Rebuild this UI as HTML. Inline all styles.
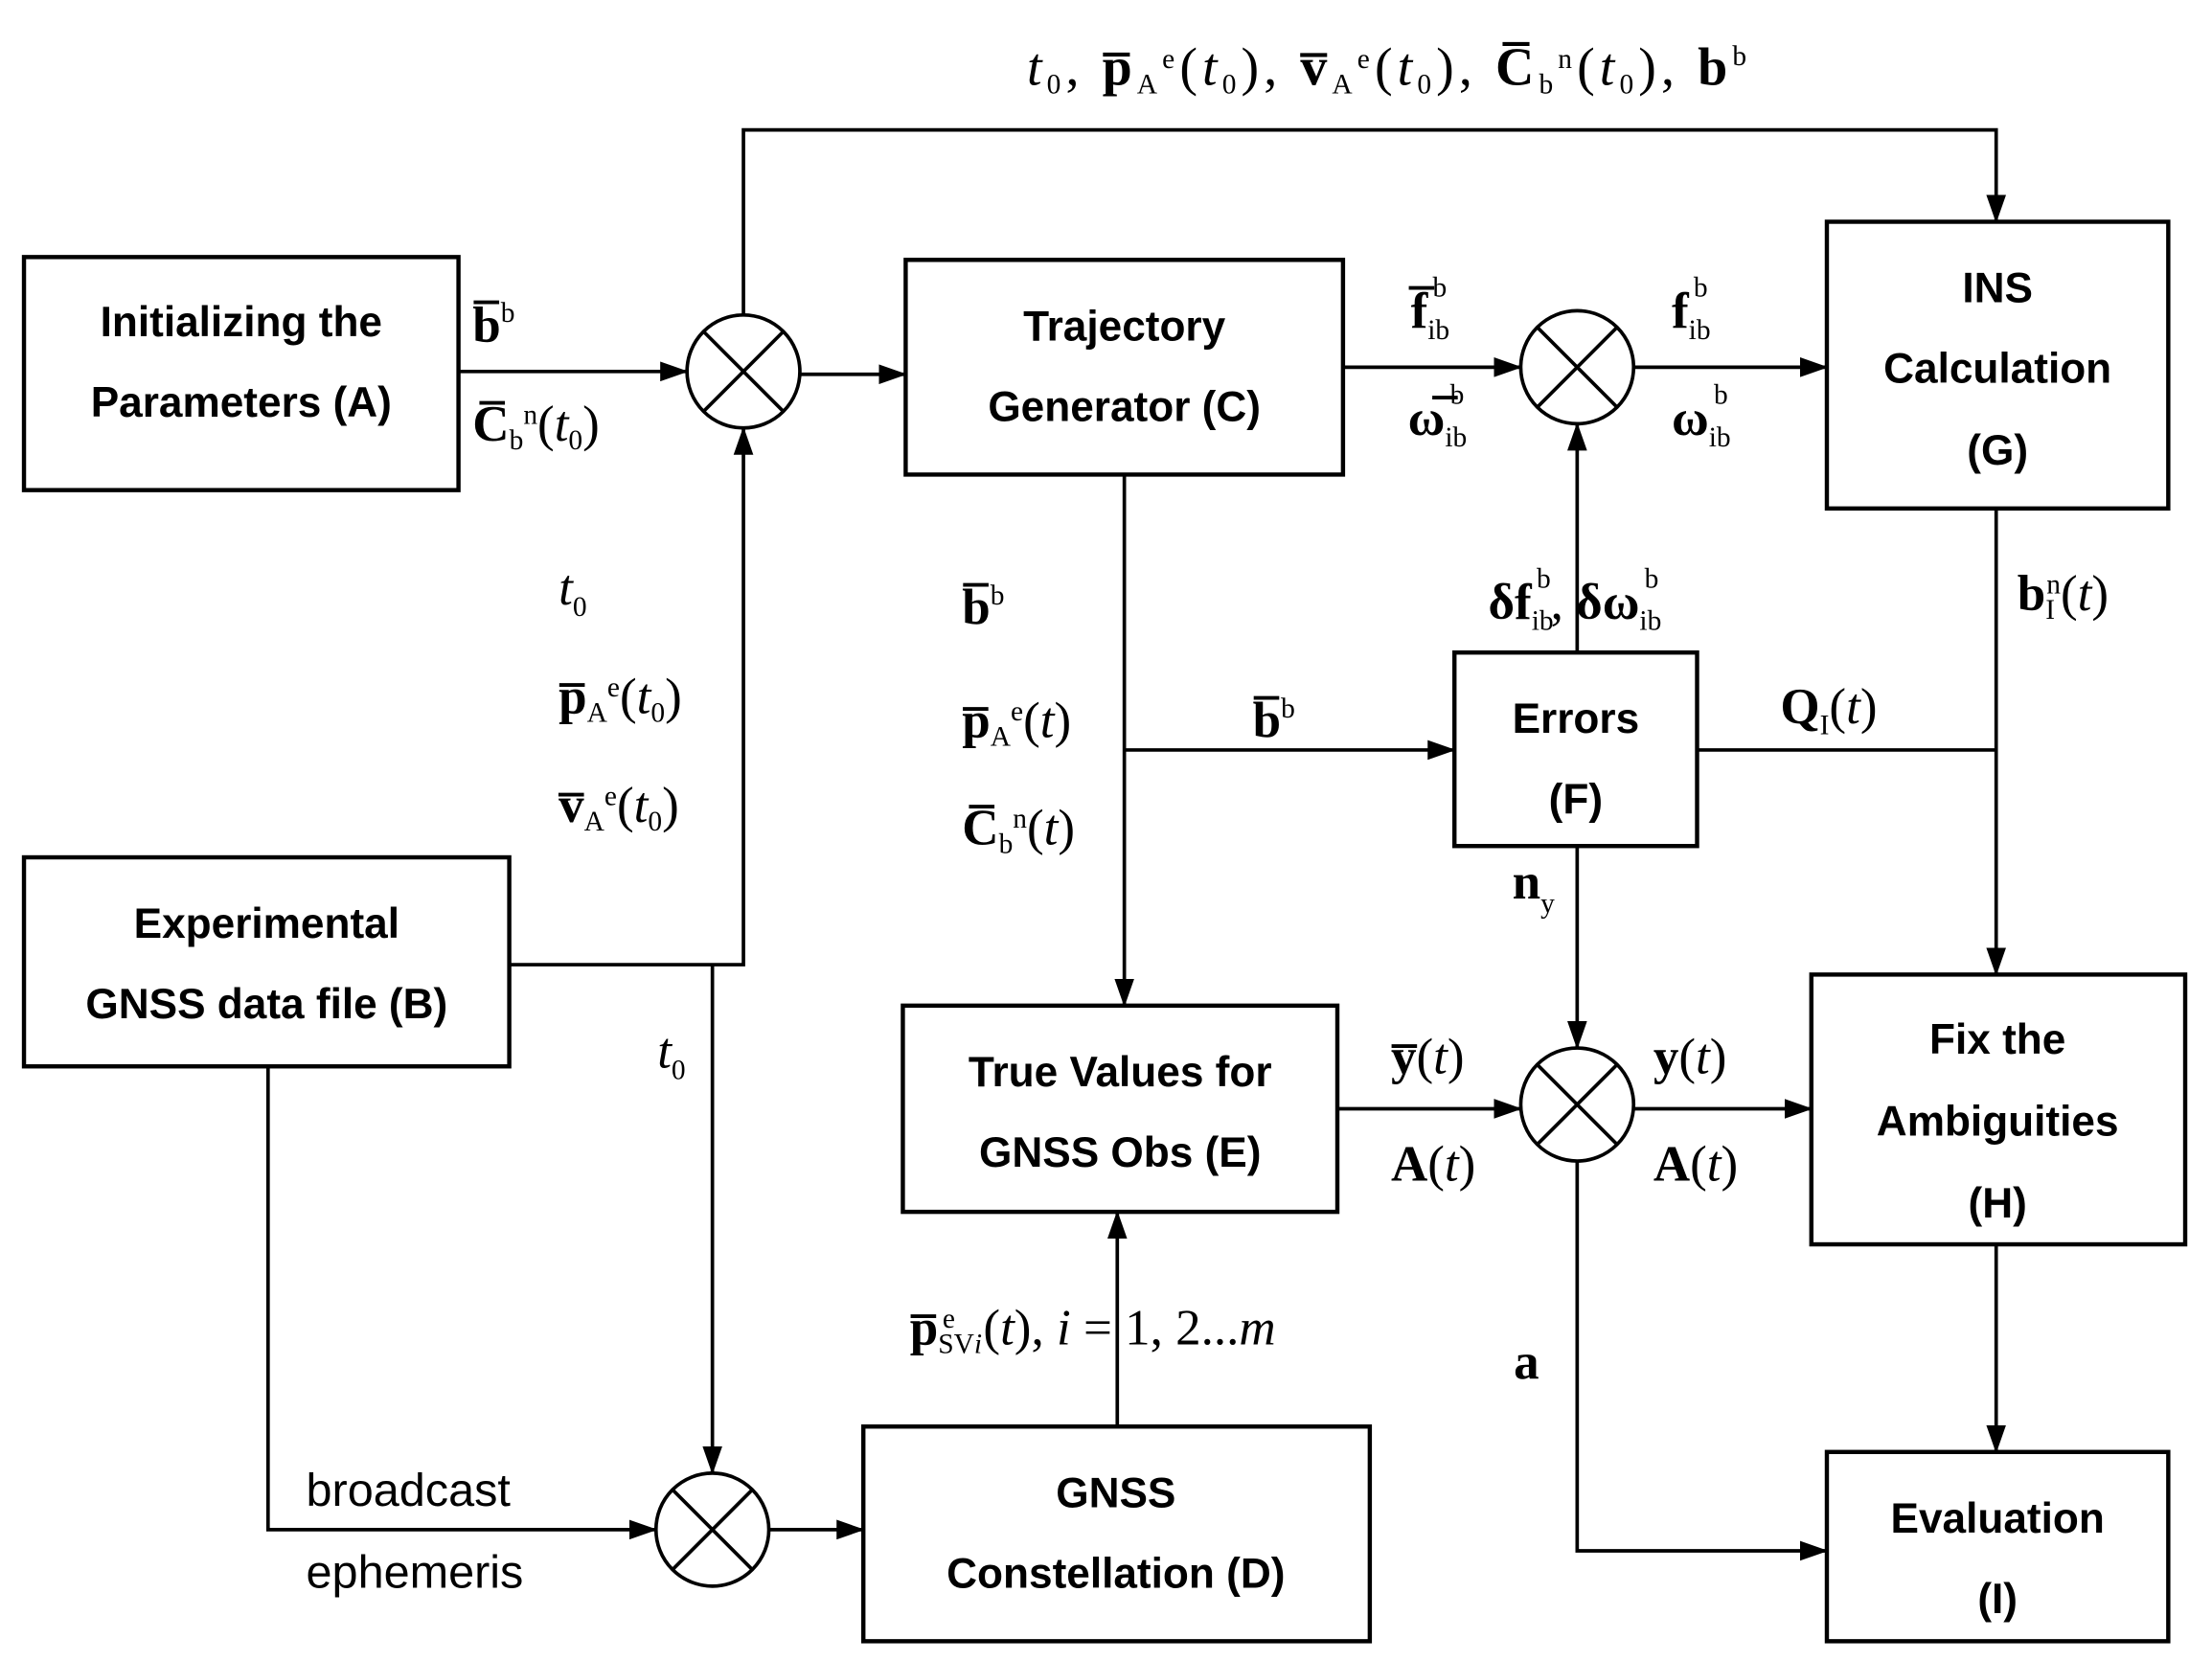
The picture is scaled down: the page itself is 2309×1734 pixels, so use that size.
<!DOCTYPE html>
<html><head><meta charset="utf-8"><style>html,body{margin:0;padding:0;background:#fff}svg{display:block}</style></head>
<body>
<svg width="2309" height="1734" viewBox="0 0 1568 1176" preserveAspectRatio="none" xmlns="http://www.w3.org/2000/svg">
<defs>
<marker id="a" markerWidth="20" markerHeight="14" refX="19" refY="7" orient="auto" markerUnits="userSpaceOnUse"><path d="M0,0 L20,7 L0,14 Z" fill="#000"/></marker></defs>
<g fill="none" stroke="#000" stroke-width="3">
<rect x="17" y="182" width="308" height="165"/>
<rect x="17" y="607" width="344" height="148"/>
<rect x="642" y="184" width="310" height="152"/>
<rect x="612" y="1010" width="359" height="152"/>
<rect x="640" y="712" width="308" height="146"/>
<rect x="1031" y="462" width="172" height="137"/>
<rect x="1295" y="157" width="242" height="203"/>
<rect x="1284" y="690" width="265" height="191"/>
<rect x="1295" y="1028" width="242" height="134"/>
</g>
<g fill="none" stroke="#000" stroke-width="2.5">
<circle cx="527" cy="263" r="40"/><path d="M499,235 L555,291 M555,235 L499,291"/>
<circle cx="1118" cy="260" r="40"/><path d="M1090,232 L1146,288 M1146,232 L1090,288"/>
<circle cx="1118" cy="782" r="40"/><path d="M1090,754 L1146,810 M1146,754 L1090,810"/>
<circle cx="505" cy="1083" r="40"/><path d="M477,1055 L533,1111 M533,1055 L477,1111"/>
</g>
<g fill="none" stroke="#000" stroke-width="2.5">
<path d="M325,263 H487" marker-end="url(#a)"/>
<path d="M567,265 H642" marker-end="url(#a)"/>
<path d="M527,223 V92 H1415 V157" marker-end="url(#a)"/>
<path d="M361,683 H527 V303" marker-end="url(#a)"/>
<path d="M505,683 V1043" marker-end="url(#a)"/>
<path d="M190,755 V1083 H465" marker-end="url(#a)"/>
<path d="M545,1083 H612" marker-end="url(#a)"/>
<path d="M792,1010 V858" marker-end="url(#a)"/>
<path d="M797,336 V712" marker-end="url(#a)"/>
<path d="M797,531 H1031" marker-end="url(#a)"/>
<path d="M952,260 H1078" marker-end="url(#a)"/>
<path d="M1158,260 H1295" marker-end="url(#a)"/>
<path d="M1118,462 V300" marker-end="url(#a)"/>
<path d="M1203,531 H1415"/>
<path d="M1415,360 V690" marker-end="url(#a)"/>
<path d="M1118,599 V742" marker-end="url(#a)"/>
<path d="M948,785 H1078" marker-end="url(#a)"/>
<path d="M1158,785 H1284" marker-end="url(#a)"/>
<path d="M1118,822 V1098 H1295" marker-end="url(#a)"/>
<path d="M1415,881 V1028" marker-end="url(#a)"/>
</g>
<g font-family="'Liberation Sans',sans-serif" font-weight="bold" font-size="30" text-anchor="middle" fill="#000">
<text x="171" y="238">Initializing the</text><text x="171" y="295">Parameters (A)</text>
<text x="189" y="664">Experimental</text><text x="189" y="721">GNSS data file (B)</text>
<text x="797" y="241">Trajectory</text><text x="797" y="298">Generator (C)</text>
<text x="791" y="1067">GNSS</text><text x="791" y="1124">Constellation (D)</text>
<text x="794" y="769">True Values for</text><text x="794" y="826">GNSS Obs (E)</text>
<text x="1117" y="519">Errors</text><text x="1117" y="576">(F)</text>
<text x="1416" y="214">INS</text><text x="1416" y="271">Calculation</text><text x="1416" y="329">(G)</text>
<text x="1416" y="746">Fix the</text><text x="1416" y="804">Ambiguities</text><text x="1416" y="862">(H)</text>
<text x="1416" y="1085">Evaluation</text><text x="1416" y="1142">(I)</text>
</g>
<g font-family="'Liberation Sans',sans-serif" font-size="33" fill="#000">
<text x="217" y="1066">broadcast</text><text x="217" y="1124">ephemeris</text>
</g>
<g font-family="'Liberation Serif',serif" font-size="36" fill="#000">
<text x="728" y="60" font-size="38" textLength="510" lengthAdjust="spacing"><tspan font-style="italic">t</tspan><tspan font-size="20" dy="6">0</tspan><tspan dy="-6">, </tspan><tspan font-weight="bold">p̅</tspan><tspan font-size="20" dy="6">A</tspan><tspan font-size="20" dy="-18">e</tspan><tspan dy="12">(</tspan><tspan font-style="italic">t</tspan><tspan font-size="20" dy="6">0</tspan><tspan dy="-6">), </tspan><tspan font-weight="bold">v̅</tspan><tspan font-size="20" dy="6">A</tspan><tspan font-size="20" dy="-18">e</tspan><tspan dy="12">(</tspan><tspan font-style="italic">t</tspan><tspan font-size="20" dy="6">0</tspan><tspan dy="-6">), </tspan><tspan font-weight="bold">C̅</tspan><tspan font-size="20" dy="6">b</tspan><tspan font-size="20" dy="-18">n</tspan><tspan dy="12">(</tspan><tspan font-style="italic">t</tspan><tspan font-size="20" dy="6">0</tspan><tspan dy="-6">), </tspan><tspan font-weight="bold">b</tspan><tspan font-size="20" dy="-14">b</tspan></text>
<text x="335" y="242"><tspan font-weight="bold">b̅</tspan><tspan font-size="20" dy="-14">b</tspan></text>
<text x="335" y="312"><tspan font-weight="bold">C̅</tspan><tspan font-size="20" dy="6">b</tspan><tspan font-size="20" dy="-18">n</tspan><tspan dy="12">(</tspan><tspan font-style="italic">t</tspan><tspan font-size="20" dy="6">0</tspan><tspan dy="-6">)</tspan></text>
<text x="396" y="428"><tspan font-style="italic">t</tspan><tspan font-size="20" dy="8">0</tspan></text>
<text x="396" y="505"><tspan font-weight="bold">p̅</tspan><tspan font-size="20" dy="6">A</tspan><tspan font-size="20" dy="-18">e</tspan><tspan dy="12">(</tspan><tspan font-style="italic">t</tspan><tspan font-size="20" dy="6">0</tspan><tspan dy="-6">)</tspan></text>
<text x="396" y="582"><tspan font-weight="bold">v̅</tspan><tspan font-size="20" dy="6">A</tspan><tspan font-size="20" dy="-18">e</tspan><tspan dy="12">(</tspan><tspan font-style="italic">t</tspan><tspan font-size="20" dy="6">0</tspan><tspan dy="-6">)</tspan></text>
<text x="466" y="756"><tspan font-style="italic">t</tspan><tspan font-size="20" dy="8">0</tspan></text>
<text x="682" y="442"><tspan font-weight="bold">b̅</tspan><tspan font-size="20" dy="-14">b</tspan></text>
<text x="682" y="522"><tspan font-weight="bold">p̅</tspan><tspan font-size="20" dy="6">A</tspan><tspan font-size="20" dy="-18">e</tspan><tspan dy="12">(</tspan><tspan font-style="italic">t</tspan><tspan>)</tspan></text>
<text x="682" y="598"><tspan font-weight="bold">C̅</tspan><tspan font-size="20" dy="6">b</tspan><tspan font-size="20" dy="-18">n</tspan><tspan dy="12">(</tspan><tspan font-style="italic">t</tspan><tspan>)</tspan></text>
<text x="888" y="522"><tspan font-weight="bold">b̅</tspan><tspan font-size="20" dy="-14">b</tspan></text>
<text x="1000" y="232"><tspan font-weight="bold">f̅</tspan><tspan font-size="20" dy="8">ib</tspan><tspan font-size="20" dx="-12" dy="-30">b</tspan></text>
<text x="998" y="308"><tspan font-weight="bold">ω̅</tspan><tspan font-size="20" dy="8">ib</tspan><tspan font-size="20" dx="-12" dy="-30">b</tspan></text>
<text x="1185" y="232"><tspan font-weight="bold">f</tspan><tspan font-size="20" dy="8">ib</tspan><tspan font-size="20" dx="-12" dy="-30">b</tspan></text>
<text x="1185" y="308"><tspan font-weight="bold">ω</tspan><tspan font-size="20" dy="8">ib</tspan><tspan font-size="20" dx="-12" dy="-30">b</tspan></text>
<text x="1055" y="438"><tspan font-weight="bold">δf</tspan><tspan font-size="20" dy="8">ib</tspan><tspan font-size="20" dx="-12" dy="-30">b</tspan><tspan dy="22">, </tspan><tspan font-weight="bold">δω</tspan><tspan font-size="20" dy="8">ib</tspan><tspan font-size="20" dx="-12" dy="-30">b</tspan></text>
<text x="1430" y="432"><tspan font-weight="bold">b</tspan><tspan font-size="20" dy="6">I</tspan><tspan font-size="20" dx="-6" dy="-18">n</tspan><tspan dy="12">(</tspan><tspan font-style="italic">t</tspan><tspan>)</tspan></text>
<text x="1262" y="512"><tspan font-weight="bold">Q</tspan><tspan font-size="20" dy="8">I</tspan><tspan dy="-8">(</tspan><tspan font-style="italic">t</tspan><tspan>)</tspan></text>
<text x="1072" y="636"><tspan font-weight="bold">n</tspan><tspan font-size="20" dy="10">y</tspan></text>
<text x="986" y="760"><tspan font-weight="bold">y̅</tspan><tspan>(</tspan><tspan font-style="italic">t</tspan><tspan>)</tspan></text>
<text x="986" y="836"><tspan font-weight="bold">A</tspan><tspan>(</tspan><tspan font-style="italic">t</tspan><tspan>)</tspan></text>
<text x="1172" y="760"><tspan font-weight="bold">y</tspan><tspan>(</tspan><tspan font-style="italic">t</tspan><tspan>)</tspan></text>
<text x="1172" y="836"><tspan font-weight="bold">A</tspan><tspan>(</tspan><tspan font-style="italic">t</tspan><tspan>)</tspan></text>
<text x="1073" y="976" font-weight="bold">a</text>
<text x="645" y="952"><tspan font-weight="bold">p̅</tspan><tspan font-size="20" dy="6">SV</tspan><tspan font-size="20" font-style="italic">i</tspan><tspan font-size="20" dx="-28" dy="-18">e</tspan><tspan dx="20" dy="12">(</tspan><tspan font-style="italic">t</tspan><tspan>), </tspan><tspan font-style="italic">i</tspan><tspan> = 1, 2...</tspan><tspan font-style="italic">m</tspan></text>
</g>
</svg>
</body></html>
